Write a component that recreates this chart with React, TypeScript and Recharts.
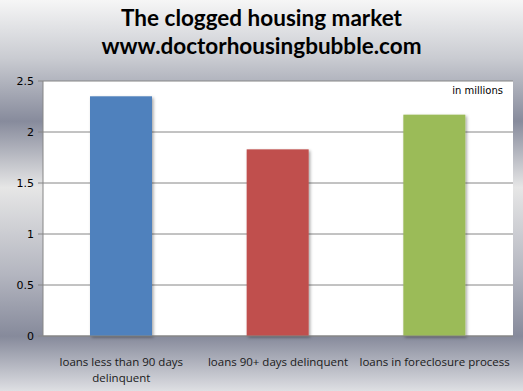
import { Bar, BarChart, CartesianGrid, Cell, XAxis, YAxis } from "recharts";

const categories = [
  "loans less than 90 days delinquent",
  "loans 90+ days delinquent",
  "loans in foreclosure process",
];
// how each category label breaks onto lines under the axis
const categoryLines = [
  ["loans less than 90 days", "delinquent"],
  ["loans 90+ days delinquent"],
  ["loans in foreclosure process"],
];
const loans = [2.35, 1.83, 2.17];
const barColors = ["#4f81bd", "#c0504d", "#9bbb59"];
const yTicks = [0, 0.5, 1, 1.5, 2, 2.5];

const data = categories.map((name, i) => ({ name, loans: loans[i] }));

const background =
  "linear-gradient(to bottom, #f6f6f6 0%, #c9cbd1 15%, #878b9c 31%, #e6e6e6 48%, #b4b6c0 70%, #868a9b 86%, #dedfe3 100%)";

function CategoryTick(props: any) {
  const { x, y, payload } = props;
  const lines = categoryLines[categories.indexOf(payload.value)] ?? [payload.value];
  return (
    <text
      x={x}
      y={y + 22}
      textAnchor="middle"
      fontSize={11.5}
      fontFamily="Open Sans"
      fill="#1a1a1a"
    >
      {lines.map((line: string, i: number) => (
        <tspan key={line} x={x} dy={i === 0 ? 0 : 16}>
          {line}
        </tspan>
      ))}
    </text>
  );
}

function ShadowBar(props: any) {
  const { x, y, width, height, fill } = props;
  return <rect x={x} y={y} width={width} height={height} fill={fill} filter="url(#barShadow)" />;
}

export default function App() {
  return (
    <div
      style={{
        position: "absolute",
        left: 0,
        top: 0,
        width: 523,
        height: 391,
        background,
        fontFamily: "Open Sans",
      }}
    >
      <div
        style={{
          position: "absolute",
          left: 0,
          top: 4,
          width: 523,
          textAlign: "center",
          fontFamily: "Lato",
          fontWeight: 700,
          fontSize: 22.5,
          lineHeight: "28px",
          color: "#000",
        }}
      >
        The clogged housing market
        <br />
        www.doctorhousingbubble.com
      </div>
      <BarChart
        width={523}
        height={391}
        data={data}
        margin={{ top: 81, right: 10, bottom: 10, left: 0 }}
        barSize={62}
      >
        <defs>
          <filter id="barShadow" x="-20%" y="-10%" width="140%" height="120%">
            <feDropShadow dx="1.5" dy="1.5" stdDeviation="1.5" floodColor="#000" floodOpacity="0.35" />
          </filter>
        </defs>
        <CartesianGrid vertical={false} fill="#ffffff" stroke="#868686" strokeOpacity={1} />
        <XAxis
          dataKey="name"
          height={45}
          interval={0}
          stroke="#868686"
          tickLine={false}
          tick={<CategoryTick />}
        />
        <YAxis
          width={43}
          domain={[0, 2.5]}
          ticks={yTicks}
          stroke="#868686"
          tickSize={5}
          tickMargin={4}
          tick={{ fontSize: 11, fill: "#000", fontFamily: "DejaVu Sans" }}
        />
        <Bar dataKey="loans" isAnimationActive={false} shape={<ShadowBar />}>
          {data.map((d, i) => (
            <Cell key={d.name} fill={barColors[i]} />
          ))}
        </Bar>
      </BarChart>
      <div
        style={{
          position: "absolute",
          right: 20,
          top: 85,
          fontSize: 10,
          fontFamily: "DejaVu Sans",
          color: "#000",
        }}
      >
        in millions
      </div>
    </div>
  );
}
